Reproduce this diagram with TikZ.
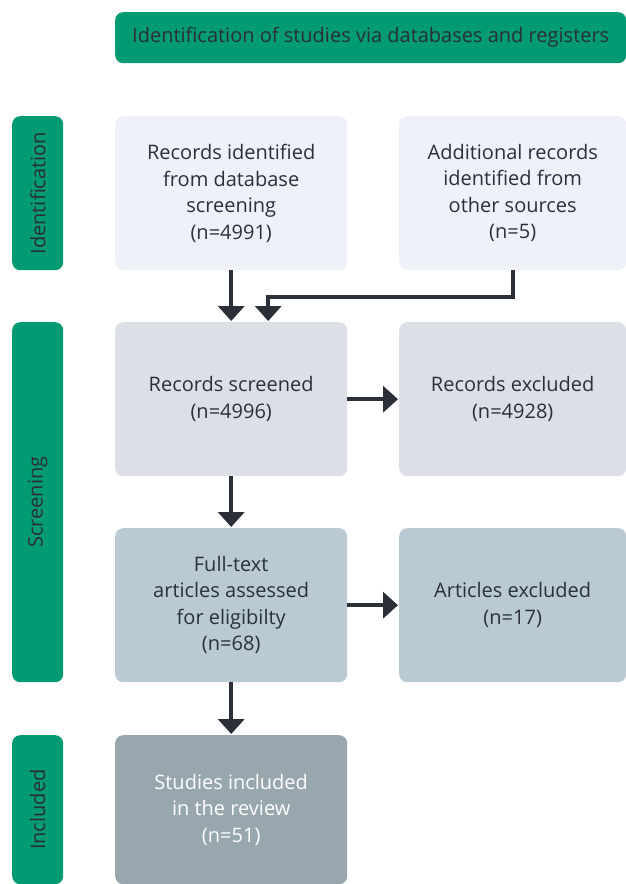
\documentclass[tikz,border=0pt]{standalone}
\usepackage{fontspec}
\setmainfont{Open Sans}
\usetikzlibrary{arrows.meta,positioning}
\definecolor{prismagreen}{HTML}{009B72}
\definecolor{ink}{HTML}{2B3038}
\definecolor{idfill}{HTML}{EEF1F7}
\definecolor{scrfill}{HTML}{DCDFE6}
\definecolor{eligfill}{HTML}{B9CAD2}
\definecolor{inclfill}{HTML}{98A6AE}
\newcommand{\boxfont}{\fontsize{20}{26.5}\selectfont}

\tikzset{
  flowbox/.style={rounded corners=8pt, anchor=north west, minimum width=232pt,
    minimum height=154pt, inner sep=0pt, align=center, text=ink, font=\boxfont},
  stagelabel/.style={rounded corners=8pt, fill=prismagreen, text=ink, rotate=90,
    anchor=north east, minimum width=154pt, minimum height=51pt, inner sep=0pt,
    font=\boxfont},
  flow/.style={line width=4pt, ink, -{Triangle[width=26pt,length=15pt]}, shorten >=1pt}
}

\begin{document}
\begin{tikzpicture}[x=1pt,y=-1pt]
\useasboundingbox (0,0) rectangle (626,884);
% header
\node[rounded corners=8pt, fill=prismagreen, text=ink, anchor=north west,
  minimum width=511pt, minimum height=51pt, inner sep=0pt, font=\boxfont]
  (header) at (115,12) {Identification of studies via databases and registers};
%
\node[stagelabel] (ident) at (12,116) {Identification};
\node[stagelabel, minimum width=360pt] (screen) at (12,322) {Screening};
\node[stagelabel, minimum width=149pt] (incl) at (12,735) {Included};
%
\node[flowbox, fill=idfill] (database) at (115,116)
  {Records identified\\from database\\screening\\(n=4991)};
\node[flowbox, fill=idfill, minimum width=227pt] (others) at (399,116)
  {Additional records\\identified from\\other sources\\(n=5)};
\node[flowbox, fill=scrfill] (screened) at (115,322)
  {Records screened\\(n=4996)};
\node[flowbox, fill=scrfill, minimum width=227pt] (excluded) at (399,322)
  {Records excluded\\(n=4928)};
\node[flowbox, fill=eligfill] (fulltext) at (115,528)
  {Full-text\\articles assessed\\for eligibilty\\(n=68)};
\node[flowbox, fill=eligfill, minimum width=227pt] (artexcl) at (399,528)
  {Articles excluded\\(n=17)};
\node[flowbox, fill=inclfill, text=white!93!idfill, minimum height=149pt] (included) at (115,735)
  {Studies included\\in the review\\(n=51)};
%
\draw[flow] (database) -- (screened);
\draw[flow] (others.south) -- ++(0,27) -| ([xshift=37pt]screened.north);
\draw[flow] (screened) -- (excluded);
\draw[flow] (screened) -- (fulltext);
\draw[flow] (fulltext) -- (artexcl);
\draw[flow] (fulltext) -- (included);
\end{tikzpicture}
\end{document}
